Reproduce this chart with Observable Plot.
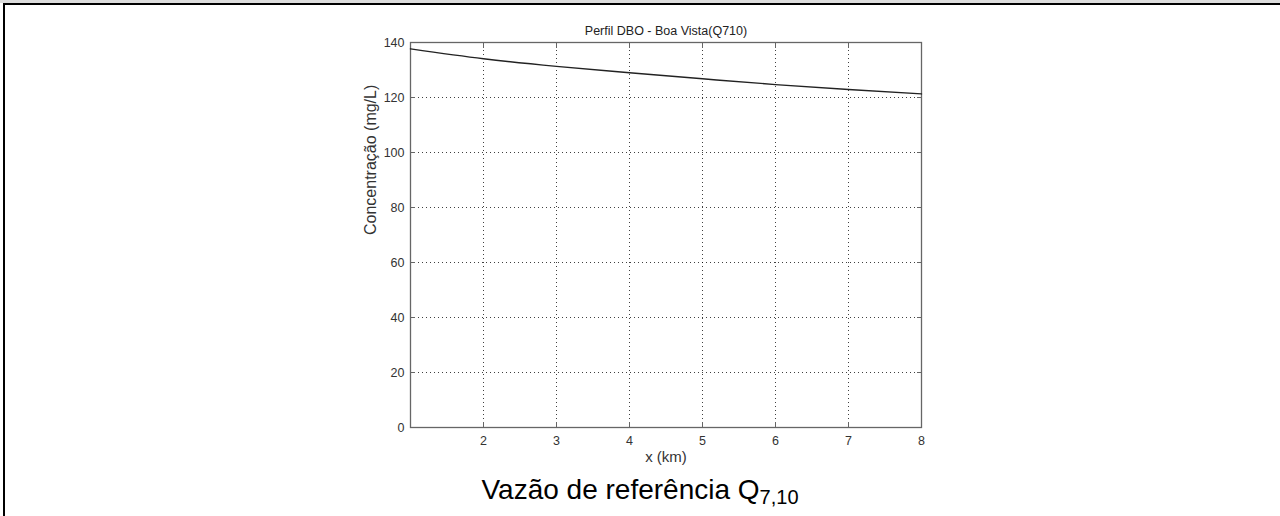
<!DOCTYPE html>
<html>
<head>
<meta charset="utf-8">
<script src="https://cdn.jsdelivr.net/npm/d3@7"></script>
<script src="https://cdn.jsdelivr.net/npm/@observablehq/plot@0.6"></script>
<style>
  html, body { margin: 0; padding: 0; background: #fff; }
  body { width: 1280px; height: 516px; position: relative; overflow: hidden; font-family: "Liberation Sans", Arial, sans-serif; }
  #strip { position: absolute; left: 0; top: 0; width: 1280px; height: 3px; background: #dcdcdc; }
  #topline { position: absolute; left: 3px; top: 3px; width: 1277px; height: 2px; background: #000; }
  #leftline { position: absolute; left: 3px; top: 3px; width: 2px; height: 513px; background: #000; }
  #chart { position: absolute; left: 0; top: 0; }
  #caption { position: absolute; left: 0; width: 1280px; top: 472px; text-align: center; font-size: 28px; color: #000; line-height: 36px; }
  #caption sub { font-size: 20px; vertical-align: -5px; line-height: 0; }
</style>
</head>
<body>
<div id="strip"></div>
<div id="topline"></div>
<div id="leftline"></div>
<div id="chart"></div>
<div id="caption">Vazão de referência Q<sub>7,10</sub></div>
<script>
// Data
const distanceKm = [1, 2, 3, 4, 5, 6, 7, 8];
const dboMgL = [137.7, 134.1, 131.3, 129.0, 126.8, 124.7, 122.9, 121.3];
const xTicks = [2, 3, 4, 5, 6, 7, 8];
const xGrid = [2, 3, 4, 5, 6, 7];
const yTicks = [0, 20, 40, 60, 80, 100, 120, 140];
const yGrid = [20, 40, 60, 80, 100, 120];
const chartTitle = "Perfil DBO - Boa Vista(Q710)";
const xLabel = "x (km)";
const yLabel = "Concentração (mg/L)";

const data = distanceKm.map((x, i) => ({x, y: dboMgL[i]}));

const tickFont = "Liberation Sans, Arial, sans-serif";

const chart = Plot.plot({
  width: 1280,
  height: 470,
  marginLeft: 410,
  marginRight: 359,
  marginTop: 42,
  marginBottom: 43,
  style: {fontFamily: tickFont, background: "transparent", color: "#333"},
  x: {domain: [1, 8]},
  y: {domain: [0, 140]},
  marks: [
    Plot.gridX(xGrid, {stroke: "#000", strokeOpacity: 0.75, strokeDasharray: "1,3"}),
    Plot.gridY(yGrid, {stroke: "#000", strokeOpacity: 0.75, strokeDasharray: "1,3"}),
    Plot.axisX(xTicks, {anchor: "bottom", tickSize: -5, tickPadding: 14, fontSize: 12.5, label: null, stroke: "#666", fill: "#333"}),
    Plot.axisX(xTicks, {anchor: "top", tickSize: -5, tickFormat: () => "", label: null, stroke: "#666"}),
    Plot.axisY(yTicks, {anchor: "left", tickSize: -5, tickPadding: 11, fontSize: 12.5, label: null, stroke: "#666", fill: "#333"}),
    Plot.axisY(yTicks, {anchor: "right", tickSize: -5, tickFormat: () => "", label: null, stroke: "#666"}),
    Plot.frame({stroke: "#666", strokeWidth: 1.3}),
    Plot.line(data, {x: "x", y: "y", stroke: "#222", strokeWidth: 1.4, curve: "monotone-x"}),
    Plot.text([chartTitle], {frameAnchor: "top", lineAnchor: "bottom", dy: -8, fontSize: 12.5, fill: "#222"}),
    Plot.text([xLabel], {frameAnchor: "bottom", lineAnchor: "top", dy: 24, fontSize: 15, fill: "#333"}),
    Plot.text([yLabel], {frameAnchor: "left", rotate: -90, lineAnchor: "bottom", dx: -35, fontSize: 16, fill: "#333"})
  ]
});
document.getElementById("chart").appendChild(chart);
</script>
</body>
</html>
